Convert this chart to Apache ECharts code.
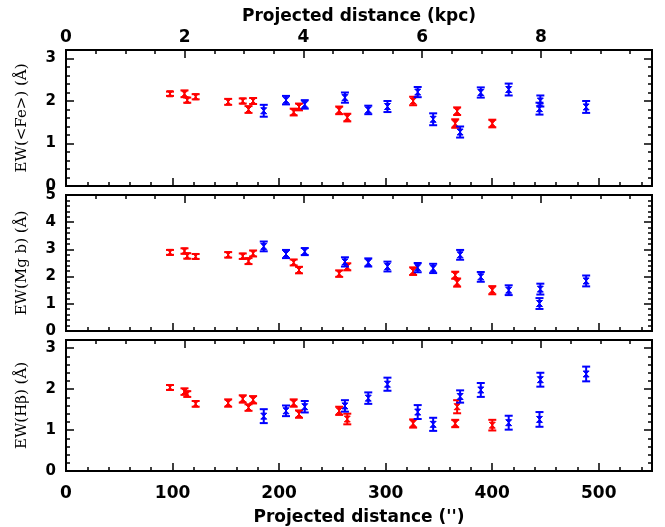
<!DOCTYPE html>
<html>
<head>
<meta charset="utf-8">
<script src="https://cdn.jsdelivr.net/npm/echarts@6/dist/echarts.min.js"></script>
<style>html,body{margin:0;padding:0;background:#fff}#c{width:665px;height:527px}</style>
</head>
<body>
<div id="c"></div>
<script>
// Projected distance (arcsec) of the two samples
const distRed  = [97.6, 111.2, 113.8, 121.7, 152.2, 165.9, 171.3, 175.6, 213.7, 218.7, 256.4, 264.0, 325.8, 365.3, 367.1, 400.1];
const distBlue = [185.6, 206.5, 224.1, 261.8, 283.7, 301.7, 330.1, 344.6, 369.9, 389.3, 415.5, 445.2, 444.4, 488.2];

// EW(<Fe>)
const feRed     = [2.17, 2.17, 2.02, 2.10, 1.98, 2.00, 1.80, 2.00, 1.74, 1.86, 1.78, 1.61, 2.00, 1.47, 1.76, 1.47];
const feRedErr  = [0.05, 0.08, 0.06, 0.06, 0.07, 0.06, 0.08, 0.07, 0.08, 0.08, 0.09, 0.09, 0.10, 0.10, 0.09, 0.09];
const feBlue    = [1.77, 2.02, 1.92, 2.08, 1.79, 1.87, 2.21, 1.57, 1.27, 2.20, 2.27, 2.00, 1.82, 1.86];
const feBlueErr = [0.14, 0.10, 0.10, 0.12, 0.10, 0.13, 0.12, 0.14, 0.13, 0.12, 0.14, 0.13, 0.14, 0.14];

// EW(Mg b)
const mgRed     = [2.89, 2.94, 2.76, 2.74, 2.80, 2.75, 2.57, 2.85, 2.52, 2.24, 2.11, 2.36, 2.20, 2.05, 1.78, 1.50];
const mgRedErr  = [0.09, 0.10, 0.10, 0.09, 0.10, 0.10, 0.11, 0.11, 0.11, 0.12, 0.12, 0.13, 0.14, 0.13, 0.15, 0.15];
const mgBlue    = [3.11, 2.83, 2.92, 2.54, 2.52, 2.37, 2.33, 2.30, 2.80, 1.99, 1.50, 1.54, 1.01, 1.84];
const mgBlueErr = [0.18, 0.15, 0.13, 0.17, 0.15, 0.18, 0.17, 0.17, 0.18, 0.18, 0.18, 0.20, 0.20, 0.20];

// EW(Hbeta)
const hbRed     = [2.04, 1.94, 1.88, 1.64, 1.66, 1.76, 1.55, 1.74, 1.66, 1.39, 1.47, 1.27, 1.16, 1.16, 1.57, 1.12];
const hbRedErr  = [0.06, 0.08, 0.07, 0.07, 0.09, 0.09, 0.08, 0.09, 0.09, 0.09, 0.10, 0.13, 0.10, 0.09, 0.16, 0.13];
const hbBlue    = [1.34, 1.47, 1.57, 1.59, 1.78, 2.12, 1.44, 1.14, 1.82, 1.98, 1.18, 2.23, 1.26, 2.37];
const hbBlueErr = [0.17, 0.13, 0.14, 0.14, 0.14, 0.16, 0.17, 0.16, 0.15, 0.17, 0.17, 0.17, 0.18, 0.18];

// Axis settings
const xMin = 0, xMax = 550;
const kpcMax = 9.87;
const kpcTicks = [0, 2, 4, 6, 8];
const panelYMax = [3.2, 5, 3.2];
const panelNames = ['EW(<Fe>) (Å)', 'EW(Mg b) (Å)', 'EW(Hβ) (Å)'];
const redColor = '#ff0000', blueColor = '#0000ff';

const grids = [
  {left: 66, right: 13, top: 50, height: 136},
  {left: 66, right: 13, top: 195, height: 136},
  {left: 66, right: 13, top: 340, height: 136}
].map(g => Object.assign(g, {show: true, borderColor: '#000', borderWidth: 2, backgroundColor: 'transparent'}));

const tickStyle = {color: '#000', width: 1.5};
const xAxes = [], yAxes = [];
const mainX = [], mainY = [];
const isInt = v => Math.abs(v - Math.round(v)) < 1e-6;
const labelFont = {color: '#000', fontFamily: 'DejaVu Sans', fontWeight: 'bold', fontSize: 17};

for (let i = 0; i < 3; i++) {
  const baseX = {gridIndex: i, type: 'value', min: xMin, max: xMax, axisLine: {show: false, onZero: false},
                 splitLine: {show: false}};
  // bottom major (main axis)
  mainX.push(xAxes.length);
  xAxes.push(Object.assign({}, baseX, {position: 'bottom', interval: 100,
    axisTick: {inside: true, length: 8, lineStyle: tickStyle},
    axisLabel: Object.assign({show: i === 2, margin: 14,
      formatter: v => (Math.round(v) % 100 === 0 ? String(Math.round(v)) : '')}, labelFont),
    name: i === 2 ? "Projected distance ('')" : '', nameLocation: 'middle', nameGap: 38,
    nameTextStyle: labelFont}));
  // bottom minor
  xAxes.push(Object.assign({}, baseX, {position: 'bottom', interval: 20,
    axisTick: {inside: true, length: 4, lineStyle: tickStyle}, axisLabel: {show: false}}));

  // top axis in kpc
  const baseK = {gridIndex: i, type: 'value', position: 'top', min: 0, max: kpcMax,
                 axisLine: {show: false, onZero: false}, splitLine: {show: false}};
  xAxes.push(Object.assign({}, baseK, {interval: 2,
    axisTick: {inside: true, length: 8, lineStyle: tickStyle},
    axisLabel: Object.assign({show: i === 0, margin: 4,
      formatter: v => (kpcTicks.some(t => Math.abs(t - v) < 1e-6) ? String(Math.round(v)) : '')}, labelFont),
    name: i === 0 ? 'Projected distance (kpc)' : '', nameLocation: 'middle', nameGap: 25,
    nameTextStyle: labelFont}));
  xAxes.push(Object.assign({}, baseK, {interval: 0.5,
    axisTick: {inside: true, length: 4, lineStyle: tickStyle}, axisLabel: {show: false}}));

  const baseY = {gridIndex: i, type: 'value', min: 0, max: panelYMax[i], axisLine: {show: false, onZero: false},
                 splitLine: {show: false}};
  mainY.push(yAxes.length);
  yAxes.push(Object.assign({}, baseY, {position: 'left', interval: 1,
    axisTick: {inside: true, length: 8, lineStyle: tickStyle},
    axisLabel: {margin: 10, color: '#000', fontFamily: 'DejaVu Sans', fontWeight: 'bold', fontSize: 15,
      formatter: v => (isInt(v) ? String(Math.round(v)) : '')},
    name: panelNames[i], nameLocation: 'middle', nameGap: 36, nameRotate: 90,
    nameTextStyle: {color: '#000', fontFamily: 'DejaVu Serif', fontSize: 15}}));
  yAxes.push(Object.assign({}, baseY, {position: 'left', interval: 0.2,
    axisTick: {inside: true, length: 4, lineStyle: tickStyle}, axisLabel: {show: false}}));
  yAxes.push(Object.assign({}, baseY, {position: 'right', interval: 1,
    axisTick: {inside: true, length: 8, lineStyle: tickStyle}, axisLabel: {show: false}}));
  yAxes.push(Object.assign({}, baseY, {position: 'right', interval: 0.2,
    axisTick: {inside: true, length: 4, lineStyle: tickStyle}, axisLabel: {show: false}}));
}

function errItem(color) {
  return function (params, api) {
    const x = api.value(0), y = api.value(1), e = api.value(2);
    const p = api.coord([x, y]);
    const t = api.coord([x, y + e]);
    const b = api.coord([x, y - e]);
    const cw = 4, m = 3;
    const st = {stroke: color, lineWidth: 2, fill: null};
    return {
      type: 'group',
      children: [
        {type: 'line', shape: {x1: p[0], y1: t[1], x2: p[0], y2: b[1]}, style: st},
        {type: 'line', shape: {x1: p[0] - cw, y1: t[1], x2: p[0] + cw, y2: t[1]}, style: st},
        {type: 'line', shape: {x1: p[0] - cw, y1: b[1], x2: p[0] + cw, y2: b[1]}, style: st},
        {type: 'polygon', shape: {points: [[p[0] - m, p[1] - m], [p[0] + m, p[1] - m], [p[0] - m, p[1] + m], [p[0] + m, p[1] + m]]},
         style: {fill: color, stroke: color, lineWidth: 1}}
      ]
    };
  };
}

function zip(xs, ys, es) { return xs.map((x, k) => [x, ys[k], es[k]]); }

const panels = [
  [feRed, feRedErr, feBlue, feBlueErr],
  [mgRed, mgRedErr, mgBlue, mgBlueErr],
  [hbRed, hbRedErr, hbBlue, hbBlueErr]
];
const series = [];
panels.forEach((pd, i) => {
  series.push({type: 'custom', xAxisIndex: mainX[i], yAxisIndex: mainY[i], clip: false,
    renderItem: errItem(redColor), data: zip(distRed, pd[0], pd[1]), encode: {x: 0, y: 1}});
  series.push({type: 'custom', xAxisIndex: mainX[i], yAxisIndex: mainY[i], clip: false,
    renderItem: errItem(blueColor), data: zip(distBlue, pd[2], pd[3]), encode: {x: 0, y: 1}});
});

const chart = echarts.init(document.getElementById('c'), null, {renderer: 'canvas'});
chart.setOption({
  animation: false,
  backgroundColor: '#fff',
  grid: grids,
  xAxis: xAxes,
  yAxis: yAxes,
  series: series
});
</script>
</body>
</html>
